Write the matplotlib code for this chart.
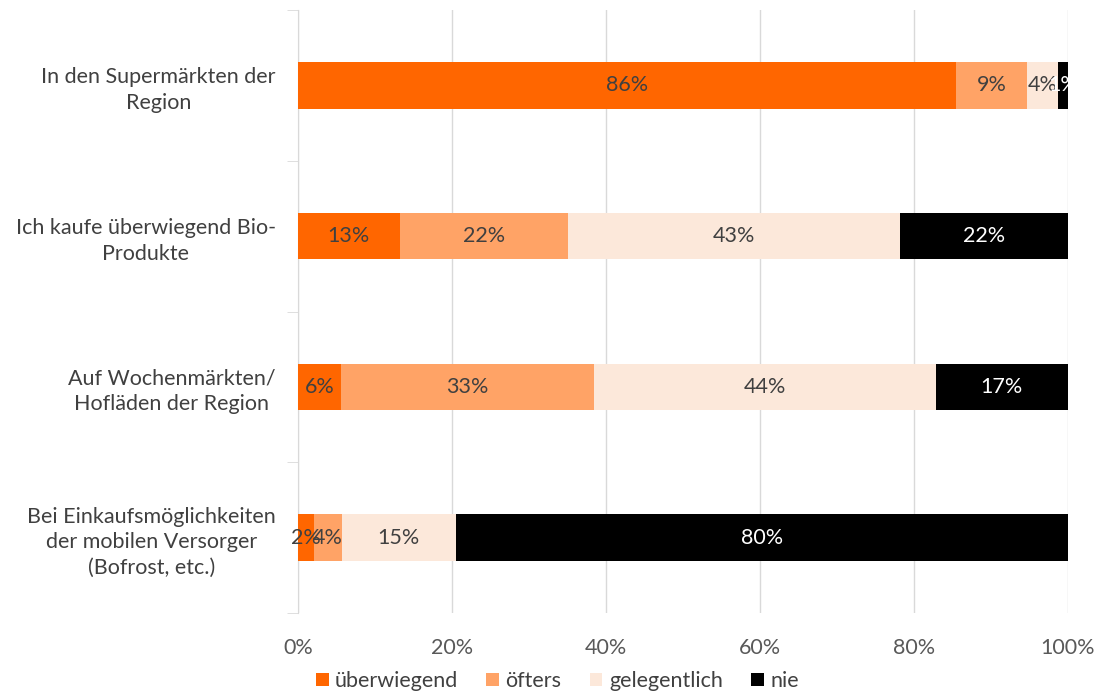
import matplotlib.pyplot as plt
import numpy as np

plt.rcParams['font.family'] = ['Lato', 'DejaVu Sans']

categories = ['In den Supermärkten der\nRegion',
              'Ich kaufe überwiegend Bio-\nProdukte',
              'Auf Wochenmärkten/\nHofläden der Region',
              'Bei Einkaufsmöglichkeiten\nder mobilen Versorger\n(Bofrost, etc.)']
series = ['überwiegend', 'öfters', 'gelegentlich', 'nie']
ueberwiegend = [85.5, 13.2, 5.6, 2.1]
oefters = [9.2, 21.9, 32.8, 3.6]
gelegentlich = [4.0, 43.1, 44.4, 14.8]
nie = [1.3, 21.8, 17.2, 79.5]
colors = ['#FF6600', '#FFA366', '#FCE8DA', '#000000']
text_colors = ['#404040', '#404040', '#404040', 'white']

fig = plt.figure(figsize=(10.99, 6.93), dpi=100)
ax = fig.add_axes([298 / 1099, 80 / 693, 770 / 1099, 603 / 693])

y = np.arange(len(categories))
left = np.zeros(len(categories))
for vals, name, col, tcol in zip([ueberwiegend, oefters, gelegentlich, nie], series, colors, text_colors):
    vals = np.array(vals)
    bars = ax.barh(y, vals, left=left, height=0.31, color=col, label=name, zorder=3)
    for b, v, l in zip(bars, vals, left):
        ax.text(l + v / 2, b.get_y() + b.get_height() / 2, f'{v:.0f}%',
                ha='center', va='center', color=tcol, fontsize=15.5, zorder=4)
    left += vals

ax.set_xlim(0, 100)
ax.set_ylim(len(categories) - 0.5, -0.5)
ax.set_xticks(np.arange(0, 101, 20))
ax.set_xticklabels([f'{t}%' for t in range(0, 101, 20)])
ax.xaxis.grid(True, color='#D9D9D9', linewidth=1, zorder=0)
ax.set_yticks(y)
ax.set_yticklabels(categories, multialignment='center', linespacing=1.35)
ax.set_yticks(np.arange(-0.5, len(categories)), minor=True)
ax.tick_params(axis='y', which='major', length=0, pad=16, labelsize=15.5, labelcolor='#404040')
ax.tick_params(axis='y', which='minor', length=8, color='#D9D9D9')
ax.tick_params(axis='x', length=0, pad=18, labelsize=15.5, labelcolor='#595959')
for s in ['top', 'right', 'bottom']:
    ax.spines[s].set_visible(False)
ax.spines['left'].set_color('#D9D9D9')

fig.legend(loc='lower center', bbox_to_anchor=(0.507, -0.025), ncol=4, frameon=False,
           fontsize=15.5, handlelength=0.6, handleheight=0.6, handletextpad=0.3,
           columnspacing=1.3, labelcolor='#404040')

fig.savefig('out.png', dpi=100)
